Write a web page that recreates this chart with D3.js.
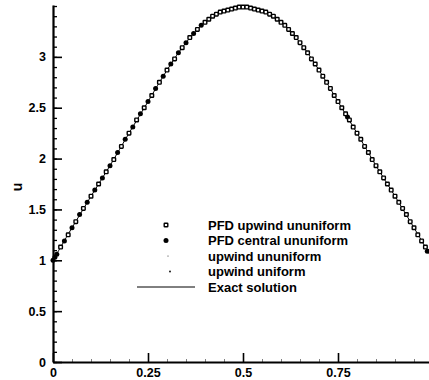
<!DOCTYPE html>
<html>
<head>
<meta charset="utf-8">
<script src="https://cdn.jsdelivr.net/npm/d3@7"></script>
<style>
  html, body { margin: 0; padding: 0; background: #fff; }
  svg { display: block; font-family: "Liberation Sans", Arial, Helvetica, sans-serif; font-weight: bold; }
</style>
</head>
<body>
<svg id="chart" width="429" height="380"></svg>
<script>
// Exact solution u(x)
const exactX = [0, 0.05, 0.1, 0.15, 0.2, 0.25, 0.3, 0.35, 0.4, 0.45, 0.5,
                0.55, 0.6, 0.65, 0.7, 0.75, 0.8, 0.85, 0.9, 0.95, 1.0];
const exactU = [1.00, 1.32, 1.63, 1.93, 2.25, 2.56, 2.87, 3.14, 3.34, 3.45, 3.49,
                3.45, 3.34, 3.14, 2.87, 2.56, 2.25, 1.93, 1.63, 1.32, 1.00];

// PFD upwind scheme on the non-uniform grid (open squares)
const pfdUpwindX = [0.02, 0.04, 0.06, 0.08, 0.10, 0.12, 0.14, 0.16, 0.18, 0.20,
                    0.22, 0.24, 0.26, 0.28, 0.30, 0.32, 0.34, 0.36, 0.38, 0.40,
                    0.41, 0.42, 0.43, 0.44, 0.45, 0.46, 0.47, 0.48, 0.49, 0.50,
                    0.51, 0.52, 0.53, 0.54, 0.55, 0.56, 0.57, 0.58, 0.59, 0.60,
                    0.61, 0.62, 0.63, 0.64, 0.65, 0.66, 0.67, 0.68, 0.69, 0.70,
                    0.71, 0.72, 0.73, 0.74, 0.75, 0.76, 0.77, 0.78, 0.79, 0.80,
                    0.81, 0.82, 0.83, 0.84, 0.85, 0.86, 0.87, 0.88, 0.89, 0.90,
                    0.91, 0.92, 0.93, 0.94, 0.95, 0.96, 0.97, 0.98];
const pfdUpwindU = [1.13, 1.25, 1.38, 1.51, 1.63, 1.75, 1.87, 1.99, 2.12, 2.25,
                    2.38, 2.50, 2.62, 2.75, 2.87, 2.98, 3.09, 3.19, 3.27, 3.34,
                    3.37, 3.40, 3.42, 3.44, 3.45, 3.46, 3.47, 3.48, 3.49, 3.49,
                    3.49, 3.48, 3.47, 3.46, 3.45, 3.44, 3.42, 3.40, 3.37, 3.34,
                    3.31, 3.27, 3.23, 3.19, 3.14, 3.09, 3.04, 2.98, 2.93, 2.87,
                    2.81, 2.75, 2.69, 2.62, 2.56, 2.50, 2.44, 2.38, 2.31, 2.25,
                    2.19, 2.12, 2.06, 1.99, 1.93, 1.87, 1.81, 1.75, 1.69, 1.63,
                    1.57, 1.51, 1.45, 1.38, 1.32, 1.25, 1.19, 1.13];

// PFD central scheme on the non-uniform grid (filled circles)
const pfdCentralX = [0, 0.005, 0.01, 0.03, 0.05, 0.07, 0.09, 0.11, 0.13, 0.15,
                     0.17, 0.19, 0.21, 0.23, 0.25, 0.27, 0.29, 0.31, 0.33, 0.35,
                     0.37, 0.39, 0.775, 0.985];
const pfdCentralU = [1.00, 1.03, 1.06, 1.19, 1.32, 1.45, 1.57, 1.69, 1.81, 1.93,
                     2.06, 2.19, 2.31, 2.44, 2.56, 2.69, 2.81, 2.93, 3.04, 3.14,
                     3.23, 3.31, 2.41, 1.09];

// Plain upwind scheme, non-uniform and uniform grids (small dots)
const upwindNonX = [0.1, 0.2, 0.3, 0.4, 0.5, 0.6, 0.7, 0.8, 0.9];
const upwindNonU = [1.63, 2.25, 2.87, 3.34, 3.49, 3.34, 2.87, 2.25, 1.63];
const upwindUniX = [0.05, 0.15, 0.25, 0.35, 0.45, 0.55, 0.65, 0.75, 0.85, 0.95];
const upwindUniU = [1.32, 1.93, 2.56, 3.14, 3.45, 3.45, 3.14, 2.56, 1.93, 1.32];

// Axis ticks
const xTicks = [0, 0.25, 0.5, 0.75];
const xTickLabels = ["0", "0.25", "0.5", "0.75"];
const yTicks = [0, 0.5, 1, 1.5, 2, 2.5, 3];
const yTickLabels = ["0", "0.5", "1", "1.5", "2", "2.5", "3"];

// Legend entries
const legendLabels = ["PFD upwind ununiform", "PFD central ununiform",
                      "upwind ununiform", "upwind uniform", "Exact solution"];

const svg = d3.select("#chart");
svg.append("rect").attr("width", 429).attr("height", 380).attr("fill", "#fff");

const x = d3.scaleLinear().domain([0, 1]).range([53, 433]);
const y = d3.scaleLinear().domain([0, 3.51]).range([362, 5]);

// minor ticks
const xMinor = d3.range(0, 1.0001, 0.05);
const yMinor = d3.range(0, 3.5001, 0.1);

const gxMinor = svg.append("g").attr("transform", `translate(0,${y(0)})`)
  .call(d3.axisBottom(x).tickValues(xMinor).tickSize(-3).tickSizeOuter(0).tickFormat(""));
gxMinor.select(".domain").remove();
gxMinor.selectAll("line").attr("stroke", "#000").attr("stroke-width", 1).attr("opacity", 0.5);

const gyMinor = svg.append("g").attr("transform", `translate(${x(0)},0)`)
  .call(d3.axisLeft(y).tickValues(yMinor).tickSize(-4).tickSizeOuter(0).tickFormat(""));
gyMinor.select(".domain").remove();
gyMinor.selectAll("line").attr("stroke", "#000").attr("stroke-width", 1.3);

// major axes
const gx = svg.append("g").attr("transform", `translate(0,${y(0)})`)
  .call(d3.axisBottom(x).tickValues(xTicks).tickSize(-9).tickSizeOuter(0).tickPadding(6)
        .tickFormat((d, i) => xTickLabels[i]));
gx.select(".domain").attr("stroke", "#000").attr("stroke-width", 2);
gx.selectAll("line").attr("stroke", "#000").attr("stroke-width", 1.6);
gx.selectAll("text").attr("font-size", 12.5).attr("font-weight", "bold")
  .attr("font-family", "Liberation Sans, Arial, sans-serif").attr("fill", "#000");

const gy = svg.append("g").attr("transform", `translate(${x(0)},0)`)
  .call(d3.axisLeft(y).tickValues(yTicks).tickSize(-9).tickSizeOuter(0).tickPadding(7)
        .tickFormat((d, i) => yTickLabels[i]));
gy.select(".domain").attr("stroke", "#000").attr("stroke-width", 2.2);
gy.selectAll("line").attr("stroke", "#000").attr("stroke-width", 1.6);
gy.selectAll("text").attr("font-size", 12.5).attr("font-weight", "bold")
  .attr("font-family", "Liberation Sans, Arial, sans-serif").attr("fill", "#000");

// axis title
svg.append("text")
  .attr("transform", `translate(17,${y(1.72)}) rotate(-90)`)
  .attr("text-anchor", "middle").attr("dy", "0.35em")
  .attr("font-size", 14).attr("fill", "#000").text("u");

// exact solution curve
const line = d3.line().x(d => x(d[0])).y(d => y(d[1])).curve(d3.curveCatmullRom);
svg.append("path")
  .datum(d3.zip(exactX, exactU))
  .attr("d", line).attr("fill", "none").attr("stroke", "#000").attr("stroke-width", 1);

// small-dot series
svg.append("g").selectAll("circle").data(d3.zip(upwindNonX, upwindNonU)).join("circle")
  .attr("cx", d => x(d[0])).attr("cy", d => y(d[1])).attr("r", 0.8).attr("fill", "#000");
svg.append("g").selectAll("circle").data(d3.zip(upwindUniX, upwindUniU)).join("circle")
  .attr("cx", d => x(d[0])).attr("cy", d => y(d[1])).attr("r", 0.9).attr("fill", "#000");

// filled circles
const cr = 2.5;
svg.append("g").selectAll("circle").data(d3.zip(pfdCentralX, pfdCentralU)).join("circle")
  .attr("cx", d => x(d[0])).attr("cy", d => y(d[1])).attr("r", cr).attr("fill", "#000");

// open squares
const sq = 3.6;
svg.append("g").selectAll("rect").data(d3.zip(pfdUpwindX, pfdUpwindU)).join("rect")
  .attr("x", d => x(d[0]) - sq / 2).attr("y", d => y(d[1]) - sq / 2)
  .attr("width", sq).attr("height", sq).attr("rx", 0.6)
  .attr("fill", "#fff").attr("stroke", "#000").attr("stroke-width", 1.4);

// legend
const legY = d3.scaleLinear().domain([0, 4]).range([225, 287]);
const lg = svg.append("g");
lg.append("rect").attr("x", 166 - sq / 2).attr("y", legY(0) - sq / 2)
  .attr("width", sq).attr("height", sq).attr("rx", 0.6)
  .attr("fill", "#fff").attr("stroke", "#000").attr("stroke-width", 1.4);
lg.append("circle").attr("cx", 166).attr("cy", legY(1)).attr("r", cr).attr("fill", "#000");
lg.append("circle").attr("cx", 168).attr("cy", legY(2)).attr("r", 0.5).attr("fill", "#000");
lg.append("circle").attr("cx", 170).attr("cy", legY(3)).attr("r", 0.9).attr("fill", "#000");
lg.append("line").attr("x1", 137).attr("x2", 195).attr("y1", legY(4)).attr("y2", legY(4))
  .attr("stroke", "#000").attr("stroke-width", 1);
lg.selectAll("text").data(legendLabels).join("text")
  .attr("x", 208).attr("y", (d, i) => legY(i)).attr("dy", "0.35em")
  .attr("font-size", 13).attr("fill", "#000").text(d => d);
</script>
</body>
</html>
